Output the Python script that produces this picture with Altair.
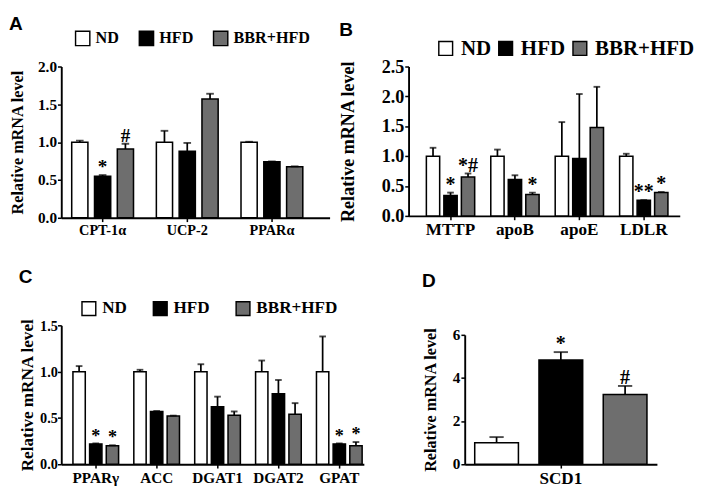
import altair as alt
import pandas as pd

GROUPS = ["ND", "HFD", "BBR+HFD"]
FILLS = ["#ffffff", "#000000", "#6e6e6e"]
SERIF = "Liberation Serif, Times New Roman, serif"
SANS = "Liberation Sans, Arial, sans-serif"
YTITLE = "Relative mRNA level"

# ---------------- Panel A ----------------
A_genes = ["CPT-1α", "UCP-2", "PPARα"]
A_nd = [1.00, 1.00, 1.00]
A_nd_err = [1.02, 1.15, 1.005]
A_hfd = [0.55, 0.88, 0.74]
A_hfd_err = [0.565, 0.99, 0.745]
A_bbr = [0.91, 1.57, 0.675]
A_bbr_err = [0.98, 1.64, 0.68]
A_nd_sig = ["", "", ""]
A_hfd_sig = ["*", "", ""]
A_bbr_sig = ["#", "", ""]
A_ticks = [0.0, 0.5, 1.0, 1.5, 2.0]

# ---------------- Panel B ----------------
B_genes = ["MTTP", "apoB", "apoE", "LDLR"]
B_nd = [1.00, 1.00, 1.00, 1.00]
B_nd_err = [1.14, 1.11, 1.57, 1.04]
B_hfd = [0.34, 0.61, 0.96, 0.26]
B_hfd_err = [0.39, 0.68, 2.04, 0.265]
B_bbr = [0.65, 0.36, 1.48, 0.39]
B_bbr_err = [0.71, 0.39, 2.16, 0.40]
B_nd_sig = ["", "", "", ""]
B_hfd_sig = ["*", "", "", "**"]
B_bbr_sig = ["*#", "*", "", "*"]
B_ticks = [0.0, 0.5, 1.0, 1.5, 2.0, 2.5]

# ---------------- Panel C ----------------
C_genes = ["PPARγ", "ACC", "DGAT1", "DGAT2", "GPAT"]
C_nd = [1.00, 1.00, 1.00, 1.00, 1.00]
C_nd_err = [1.06, 1.02, 1.08, 1.12, 1.38]
C_hfd = [0.22, 0.57, 0.62, 0.76, 0.22]
C_hfd_err = [0.225, 0.575, 0.73, 0.91, 0.225]
C_bbr = [0.20, 0.52, 0.53, 0.54, 0.20]
C_bbr_err = [0.205, 0.525, 0.57, 0.66, 0.24]
C_nd_sig = ["", "", "", "", ""]
C_hfd_sig = ["*", "", "", "", "*"]
C_bbr_sig = ["*", "", "", "", "*"]
C_ticks = [0.0, 0.5, 1.0, 1.5]

# ---------------- Panel D ----------------
D_genes = ["SCD1"]
D_nd = [1.00]
D_nd_err = [1.26]
D_hfd = [4.83]
D_hfd_err = [5.20]
D_bbr = [3.23]
D_bbr_err = [3.63]
D_nd_sig = [""]
D_hfd_sig = ["*"]
D_bbr_sig = ["#"]
D_ticks = [0, 2, 4, 6]


def table(genes, nd, nd_e, hfd, hfd_e, bbr, bbr_e, nd_s, hfd_s, bbr_s):
    rows = []
    for grp, vals, errs, sigs in zip(GROUPS, [nd, hfd, bbr], [nd_e, hfd_e, bbr_e], [nd_s, hfd_s, bbr_s]):
        for g, v, e, s in zip(genes, vals, errs, sigs):
            rows.append({"gene": g, "group": grp, "value": v, "err": e, "sig": s})
    return pd.DataFrame(rows)


def panel(df, genes, letter, ticks, fmt, width, height, pin, pout, align, subpad,
          cap, legend, fs_lab, fs_x, fs_title, tpad, toff, fs_sig, lpad=1, yrange=None,
          bar_sw=1.6):
    xs = alt.X("gene:N", sort=genes,
               scale=alt.Scale(domain=genes, paddingInner=pin, paddingOuter=pout, align=align),
               axis=alt.Axis(title=None, labelAngle=0, labelFontSize=fs_x, labelPadding=2,
                             tickSize=4, labelFont=SERIF, labelFontWeight="bold",
                             labelColor="black"))
    xo = alt.XOffset("group:N", sort=GROUPS,
                     scale=alt.Scale(domain=GROUPS, paddingInner=subpad, paddingOuter=0))
    if yrange is None:
        yscale = alt.Scale(domain=[ticks[0], ticks[-1]], nice=False, zero=True)
    else:
        yscale = alt.Scale(domain=[ticks[0], ticks[-1]], nice=False, zero=True, range=yrange)
    yaxis = alt.Axis(title=YTITLE, values=ticks, format=fmt, labelFontSize=fs_lab,
                     titleFontSize=fs_title, titlePadding=tpad, tickSize=4, labelPadding=lpad,
                     labelFont=SERIF, titleFont=SERIF, labelFontWeight="bold",
                     titleFontWeight="bold", labelColor="black", titleColor="black")
    base = alt.Chart(df)
    rule = base.mark_rule(color="black", strokeWidth=1.8).encode(
        x=xs, xOffset=xo, y=alt.Y("value:Q", scale=yscale, axis=yaxis), y2="err:Q")
    capm = base.mark_tick(color="black", thickness=2, size=cap).encode(
        x=xs, xOffset=xo, y=alt.Y("err:Q", scale=yscale, axis=yaxis))
    fill = alt.Fill("group:N", sort=GROUPS, scale=alt.Scale(domain=GROUPS, range=FILLS),
                    legend=legend)
    bars = base.mark_bar(stroke="black", strokeWidth=bar_sw).encode(
        x=xs, xOffset=xo, y=alt.Y("value:Q", scale=yscale, axis=yaxis), fill=fill)
    text = base.transform_filter("datum.sig != ''").mark_text(
        font=SERIF, fontSize=fs_sig, fontWeight="bold", color="black",
        baseline="alphabetic", dy=-2).encode(
        x=xs, xOffset=xo, y=alt.Y("err:Q", scale=yscale, axis=yaxis), text="sig:N")
    return alt.layer(rule, bars, capm, text).properties(
        width=width, height=height,
        title=alt.TitleParams(letter, anchor="start", frame="bounds", font=SANS,
                              fontSize=20, fontWeight="bold", color="black", offset=toff))


def leg(x, y, fs, size, colpad):
    return alt.Legend(orient="none", legendX=x, legendY=y, direction="horizontal", title=None,
                      symbolType="square", symbolSize=size, symbolStrokeColor="black",
                      symbolStrokeWidth=1.5, symbolOpacity=1, labelFont=SERIF,
                      labelFontWeight="bold", labelFontSize=fs, labelColor="black",
                      columnPadding=colpad, labelOffset=5)


dfA = table(A_genes, A_nd, A_nd_err, A_hfd, A_hfd_err, A_bbr, A_bbr_err, A_nd_sig, A_hfd_sig, A_bbr_sig)
dfB = table(B_genes, B_nd, B_nd_err, B_hfd, B_hfd_err, B_bbr, B_bbr_err, B_nd_sig, B_hfd_sig, B_bbr_sig)
dfC = table(C_genes, C_nd, C_nd_err, C_hfd, C_hfd_err, C_bbr, C_bbr_err, C_nd_sig, C_hfd_sig, C_bbr_sig)
dfD = table(D_genes, D_nd, D_nd_err, D_hfd, D_hfd_err, D_bbr, D_bbr_err, D_nd_sig, D_hfd_sig, D_bbr_sig)

pA = panel(dfA, A_genes, "A", A_ticks, ".1f", 282, 159, 0.27, 0.22, 0.28, 0.29, 8,
           leg(14, -38, 17, 225, 18), 16, 15, 17, 12, -4, 20)
pB = panel(dfB, B_genes, "B", B_ticks, ".1f", 285, 157, 0.25, 0.23, 0.6, 0.24, 7,
           leg(28, -30, 22, 210, 4), 19, 18, 19, 25, -2, 21)
pC = panel(dfC, C_genes, "C", C_ticks, ".1f", 318, 146, 0.25, 0.11, 0.87, 0.26, 7,
           leg(20, -27, 18, 210, 24), 15, 16, 18, 4, 14, 19, lpad=0)
pD = panel(dfD, D_genes, "D", D_ticks, "d", 202, 146, 0.0, 0.058, 0.5, 0.32, 15,
           None, 16, 18, 17, 14, 36, 21, yrange=[146, 10])

RES = dict(fill="independent", xOffset="independent", x="independent", y="independent")

row1 = alt.hconcat(pA, pB, spacing=10).resolve_scale(**RES).resolve_legend(fill="independent")
row2 = alt.hconcat(pC, pD, spacing=60).resolve_scale(**RES).resolve_legend(fill="independent")

chart = alt.vconcat(row1, row2, spacing=30).resolve_scale(**RES).resolve_legend(
    fill="independent").properties(
    padding={"top": -5, "left": 0, "right": 0, "bottom": 0}).configure_view(
    stroke=None).configure_axis(
    domainColor="black", domainWidth=2, tickColor="black", tickWidth=1.6,
    labelColor="black", titleColor="black", labelFont=SERIF, titleFont=SERIF,
    labelFontWeight="bold", titleFontWeight="bold", grid=False)

chart.save("out.html", embed_options={"renderer": "svg", "actions": False})
